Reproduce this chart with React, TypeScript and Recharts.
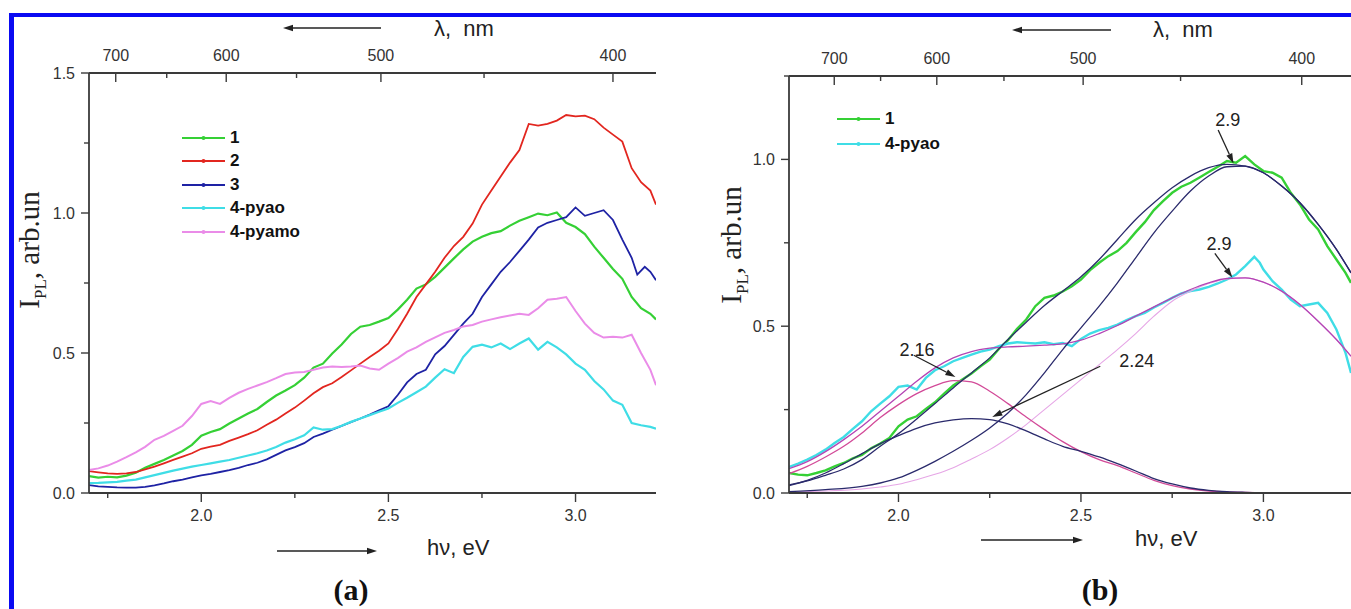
import React from 'react';
import { LineChart, Line, XAxis, YAxis, Legend, ReferenceLine, ReferenceDot } from 'recharts';

type Pt = [number, number];

// ---- panel (a): PL spectra, hv (eV) -> I_PL ----
const spec1A: Pt[] = [
  [1.7, 0.06], [1.725, 0.055], [1.75, 0.058], [1.775, 0.056], [1.8, 0.062], [1.825, 0.072], [1.85, 0.09], [1.875, 0.104],
  [1.9, 0.118], [1.925, 0.134], [1.95, 0.15], [1.975, 0.172], [2.0, 0.205], [2.025, 0.218], [2.05, 0.228], [2.075, 0.248],
  [2.1, 0.266], [2.125, 0.284], [2.15, 0.3], [2.175, 0.325], [2.2, 0.348], [2.225, 0.366], [2.25, 0.385], [2.275, 0.412],
  [2.3, 0.448], [2.325, 0.462], [2.35, 0.498], [2.375, 0.53], [2.4, 0.568], [2.425, 0.594], [2.45, 0.6], [2.475, 0.612],
  [2.5, 0.625], [2.525, 0.655], [2.55, 0.69], [2.575, 0.73], [2.6, 0.745], [2.625, 0.772], [2.65, 0.805], [2.675, 0.838],
  [2.7, 0.87], [2.725, 0.898], [2.75, 0.915], [2.775, 0.928], [2.8, 0.935], [2.825, 0.955], [2.85, 0.972], [2.875, 0.985],
  [2.9, 0.998], [2.925, 0.992], [2.95, 1.002], [2.975, 0.965], [3.0, 0.95], [3.025, 0.925], [3.05, 0.88], [3.075, 0.84],
  [3.1, 0.8], [3.125, 0.765], [3.15, 0.7], [3.175, 0.66], [3.2, 0.64], [3.215, 0.62],
];
const spec2A: Pt[] = [
  [1.7, 0.078], [1.725, 0.074], [1.75, 0.07], [1.775, 0.068], [1.8, 0.07], [1.825, 0.075], [1.85, 0.084], [1.875, 0.094],
  [1.9, 0.106], [1.925, 0.118], [1.95, 0.13], [1.975, 0.142], [2.0, 0.158], [2.025, 0.166], [2.05, 0.172], [2.075, 0.186],
  [2.1, 0.198], [2.125, 0.21], [2.15, 0.224], [2.175, 0.244], [2.2, 0.262], [2.225, 0.284], [2.25, 0.305], [2.275, 0.33],
  [2.3, 0.356], [2.325, 0.378], [2.35, 0.392], [2.375, 0.414], [2.4, 0.438], [2.425, 0.462], [2.45, 0.486], [2.475, 0.508],
  [2.5, 0.534], [2.525, 0.585], [2.55, 0.64], [2.575, 0.7], [2.6, 0.745], [2.625, 0.79], [2.65, 0.84], [2.675, 0.882],
  [2.7, 0.915], [2.725, 0.962], [2.75, 1.03], [2.775, 1.08], [2.8, 1.13], [2.825, 1.18], [2.85, 1.225], [2.875, 1.318],
  [2.9, 1.312], [2.925, 1.318], [2.95, 1.33], [2.975, 1.35], [3.0, 1.345], [3.025, 1.348], [3.05, 1.335], [3.075, 1.305],
  [3.1, 1.28], [3.125, 1.255], [3.15, 1.16], [3.175, 1.11], [3.2, 1.08], [3.215, 1.03],
];
const spec3A: Pt[] = [
  [1.7, 0.028], [1.725, 0.024], [1.75, 0.022], [1.775, 0.02], [1.8, 0.019], [1.825, 0.019], [1.85, 0.022], [1.875, 0.027],
  [1.9, 0.034], [1.925, 0.042], [1.95, 0.048], [1.975, 0.056], [2.0, 0.063], [2.025, 0.068], [2.05, 0.075], [2.075, 0.082],
  [2.1, 0.09], [2.125, 0.1], [2.15, 0.108], [2.175, 0.12], [2.2, 0.136], [2.225, 0.152], [2.25, 0.164], [2.275, 0.178],
  [2.3, 0.2], [2.325, 0.212], [2.35, 0.226], [2.375, 0.24], [2.4, 0.253], [2.425, 0.266], [2.45, 0.28], [2.475, 0.295],
  [2.5, 0.31], [2.525, 0.35], [2.55, 0.395], [2.575, 0.425], [2.6, 0.44], [2.625, 0.495], [2.65, 0.525], [2.675, 0.565],
  [2.7, 0.605], [2.725, 0.64], [2.75, 0.7], [2.775, 0.745], [2.8, 0.79], [2.825, 0.825], [2.85, 0.865], [2.875, 0.905],
  [2.9, 0.948], [2.925, 0.965], [2.95, 0.975], [2.975, 0.985], [3.0, 1.02], [3.025, 0.99], [3.05, 1.0], [3.075, 1.01],
  [3.1, 0.975], [3.125, 0.905], [3.15, 0.84], [3.165, 0.78], [3.185, 0.808], [3.2, 0.79], [3.215, 0.76],
];
const spec4A: Pt[] = [
  [1.7, 0.035], [1.725, 0.036], [1.75, 0.038], [1.775, 0.04], [1.8, 0.044], [1.825, 0.048], [1.85, 0.056], [1.875, 0.064],
  [1.9, 0.072], [1.925, 0.08], [1.95, 0.087], [1.975, 0.094], [2.0, 0.1], [2.025, 0.106], [2.05, 0.112], [2.075, 0.118],
  [2.1, 0.126], [2.125, 0.134], [2.15, 0.142], [2.175, 0.152], [2.2, 0.164], [2.225, 0.18], [2.25, 0.192], [2.275, 0.206],
  [2.3, 0.234], [2.325, 0.226], [2.35, 0.228], [2.375, 0.24], [2.4, 0.254], [2.425, 0.266], [2.45, 0.278], [2.475, 0.29],
  [2.5, 0.302], [2.525, 0.322], [2.55, 0.34], [2.575, 0.36], [2.6, 0.38], [2.625, 0.412], [2.65, 0.442], [2.675, 0.428],
  [2.7, 0.486], [2.725, 0.522], [2.75, 0.53], [2.775, 0.52], [2.8, 0.534], [2.825, 0.514], [2.85, 0.534], [2.875, 0.552],
  [2.9, 0.512], [2.925, 0.54], [2.95, 0.52], [2.975, 0.495], [3.0, 0.462], [3.025, 0.44], [3.05, 0.4], [3.075, 0.37],
  [3.1, 0.33], [3.125, 0.315], [3.15, 0.25], [3.175, 0.242], [3.2, 0.236], [3.215, 0.23],
];
const spec5A: Pt[] = [
  [1.7, 0.082], [1.725, 0.088], [1.75, 0.098], [1.775, 0.112], [1.8, 0.128], [1.825, 0.145], [1.85, 0.165], [1.875, 0.19],
  [1.9, 0.204], [1.925, 0.222], [1.95, 0.24], [1.975, 0.275], [2.0, 0.318], [2.025, 0.328], [2.05, 0.318], [2.075, 0.34],
  [2.1, 0.358], [2.125, 0.372], [2.15, 0.384], [2.175, 0.396], [2.2, 0.41], [2.225, 0.425], [2.25, 0.43], [2.275, 0.432],
  [2.3, 0.44], [2.325, 0.448], [2.35, 0.452], [2.375, 0.45], [2.4, 0.452], [2.425, 0.455], [2.45, 0.445], [2.475, 0.44],
  [2.5, 0.462], [2.525, 0.482], [2.55, 0.505], [2.575, 0.52], [2.6, 0.54], [2.625, 0.556], [2.65, 0.572], [2.675, 0.582],
  [2.7, 0.595], [2.725, 0.6], [2.75, 0.612], [2.775, 0.62], [2.8, 0.628], [2.825, 0.634], [2.85, 0.64], [2.875, 0.636],
  [2.9, 0.66], [2.925, 0.69], [2.95, 0.694], [2.975, 0.7], [3.0, 0.65], [3.025, 0.605], [3.05, 0.572], [3.075, 0.555],
  [3.1, 0.558], [3.125, 0.555], [3.15, 0.565], [3.175, 0.5], [3.2, 0.44], [3.215, 0.385],
];

// ---- panel (b): spectra 1 and 4-pyao with their gaussian fits ----
const spec1B: Pt[] = [
  [1.7, 0.06], [1.725, 0.055], [1.75, 0.053], [1.775, 0.06], [1.8, 0.068], [1.825, 0.08], [1.85, 0.09], [1.875, 0.104],
  [1.9, 0.114], [1.925, 0.134], [1.95, 0.148], [1.975, 0.165], [2.0, 0.2], [2.025, 0.22], [2.05, 0.23], [2.075, 0.252],
  [2.1, 0.272], [2.125, 0.298], [2.15, 0.322], [2.175, 0.34], [2.2, 0.358], [2.225, 0.38], [2.25, 0.4], [2.275, 0.432],
  [2.3, 0.458], [2.325, 0.492], [2.35, 0.52], [2.375, 0.56], [2.4, 0.585], [2.425, 0.592], [2.45, 0.604], [2.475, 0.62],
  [2.5, 0.64], [2.525, 0.668], [2.55, 0.69], [2.575, 0.71], [2.6, 0.725], [2.625, 0.75], [2.65, 0.782], [2.675, 0.812],
  [2.7, 0.848], [2.725, 0.875], [2.75, 0.9], [2.775, 0.918], [2.8, 0.93], [2.825, 0.946], [2.85, 0.962], [2.875, 0.978],
  [2.9, 0.995], [2.925, 0.99], [2.95, 1.01], [2.975, 0.985], [3.0, 0.965], [3.025, 0.96], [3.05, 0.945], [3.075, 0.9],
  [3.1, 0.865], [3.125, 0.82], [3.15, 0.79], [3.175, 0.74], [3.2, 0.7], [3.225, 0.66], [3.24, 0.63],
];
const spec4B: Pt[] = [
  [1.7, 0.078], [1.725, 0.088], [1.75, 0.1], [1.775, 0.114], [1.8, 0.13], [1.825, 0.15], [1.85, 0.168], [1.875, 0.192],
  [1.9, 0.215], [1.925, 0.245], [1.95, 0.268], [1.975, 0.29], [2.0, 0.318], [2.025, 0.322], [2.05, 0.31], [2.075, 0.345],
  [2.1, 0.368], [2.125, 0.38], [2.15, 0.395], [2.175, 0.405], [2.2, 0.415], [2.225, 0.424], [2.25, 0.43], [2.275, 0.44],
  [2.3, 0.448], [2.325, 0.452], [2.35, 0.45], [2.375, 0.448], [2.4, 0.452], [2.425, 0.446], [2.45, 0.45], [2.475, 0.44],
  [2.5, 0.462], [2.525, 0.478], [2.55, 0.488], [2.575, 0.495], [2.6, 0.505], [2.625, 0.518], [2.65, 0.53], [2.675, 0.54],
  [2.7, 0.556], [2.725, 0.57], [2.75, 0.585], [2.775, 0.598], [2.8, 0.605], [2.825, 0.61], [2.85, 0.618], [2.875, 0.628],
  [2.9, 0.64], [2.925, 0.655], [2.95, 0.68], [2.975, 0.708], [2.99, 0.69], [3.0, 0.67], [3.025, 0.635], [3.05, 0.61],
  [3.075, 0.58], [3.1, 0.56], [3.125, 0.565], [3.15, 0.57], [3.175, 0.54], [3.2, 0.49], [3.225, 0.42], [3.24, 0.36],
];
const fit1Sum: Pt[] = [
  [1.7, 0.024], [1.75, 0.036], [1.8, 0.053], [1.85, 0.072], [1.9, 0.1], [1.95, 0.14], [2.0, 0.178], [2.05, 0.222],
  [2.1, 0.268], [2.15, 0.315], [2.2, 0.36], [2.25, 0.405], [2.3, 0.46], [2.35, 0.512], [2.4, 0.562], [2.45, 0.605],
  [2.5, 0.648], [2.55, 0.7], [2.6, 0.76], [2.65, 0.82], [2.7, 0.87], [2.75, 0.915], [2.8, 0.95], [2.85, 0.975],
  [2.9, 0.985], [2.95, 0.98], [3.0, 0.96], [3.05, 0.92], [3.1, 0.87], [3.15, 0.805], [3.2, 0.73], [3.24, 0.66],
];
const fit1Peak224: Pt[] = [
  [1.7, 0.022], [1.75, 0.038], [1.8, 0.06], [1.85, 0.088], [1.9, 0.118], [1.95, 0.148], [2.0, 0.172], [2.05, 0.194],
  [2.1, 0.21], [2.15, 0.219], [2.2, 0.223], [2.25, 0.22], [2.3, 0.207], [2.35, 0.186], [2.4, 0.162], [2.45, 0.14],
  [2.5, 0.125], [2.55, 0.108], [2.6, 0.088], [2.65, 0.066], [2.7, 0.043], [2.75, 0.027], [2.8, 0.015], [2.85, 0.008],
  [2.9, 0.004], [2.95, 0.002], [3.05, 0.0], [3.24, 0.0],
];
const fit1Peak29: Pt[] = [
  [1.7, 0.004], [1.8, 0.01], [1.9, 0.02], [1.95, 0.03], [2.0, 0.045], [2.05, 0.068], [2.1, 0.095], [2.15, 0.125],
  [2.2, 0.158], [2.25, 0.195], [2.3, 0.24], [2.35, 0.295], [2.4, 0.36], [2.45, 0.43], [2.5, 0.495], [2.55, 0.56],
  [2.6, 0.63], [2.65, 0.705], [2.7, 0.78], [2.75, 0.845], [2.8, 0.905], [2.85, 0.95], [2.9, 0.978], [2.95, 0.98],
  [3.0, 0.96], [3.05, 0.92], [3.1, 0.87], [3.15, 0.805], [3.2, 0.73], [3.24, 0.66],
];
const fit4Sum: Pt[] = [
  [1.7, 0.073], [1.75, 0.094], [1.8, 0.124], [1.85, 0.16], [1.9, 0.2], [1.95, 0.245], [2.0, 0.29], [2.05, 0.335],
  [2.1, 0.375], [2.15, 0.405], [2.2, 0.424], [2.25, 0.434], [2.3, 0.438], [2.35, 0.44], [2.4, 0.443], [2.45, 0.447],
  [2.5, 0.458], [2.55, 0.478], [2.6, 0.502], [2.65, 0.53], [2.7, 0.558], [2.75, 0.585], [2.8, 0.61], [2.85, 0.63],
  [2.9, 0.643], [2.95, 0.645], [3.0, 0.632], [3.05, 0.605], [3.1, 0.565], [3.15, 0.515], [3.2, 0.46], [3.24, 0.41],
];
const fit4Peak216: Pt[] = [
  [1.7, 0.058], [1.75, 0.08], [1.8, 0.108], [1.85, 0.14], [1.9, 0.18], [1.95, 0.226], [2.0, 0.265], [2.05, 0.298],
  [2.1, 0.322], [2.15, 0.337], [2.2, 0.333], [2.25, 0.305], [2.3, 0.268], [2.35, 0.228], [2.4, 0.19], [2.45, 0.154],
  [2.5, 0.124], [2.55, 0.1], [2.6, 0.082], [2.65, 0.06], [2.7, 0.038], [2.75, 0.022], [2.8, 0.012], [2.85, 0.006],
  [2.9, 0.003], [3.0, 0.001], [3.1, 0.0], [3.24, 0.0],
];
const fit4Peak29: Pt[] = [
  [1.7, 0.003], [1.8, 0.006], [1.9, 0.012], [1.95, 0.018], [2.0, 0.026], [2.05, 0.04], [2.1, 0.056], [2.15, 0.076],
  [2.2, 0.102], [2.25, 0.13], [2.3, 0.165], [2.35, 0.205], [2.4, 0.25], [2.45, 0.295], [2.5, 0.34], [2.55, 0.385],
  [2.6, 0.43], [2.65, 0.478], [2.7, 0.53], [2.75, 0.575], [2.8, 0.605], [2.85, 0.628], [2.9, 0.642], [2.95, 0.645],
  [3.0, 0.632], [3.05, 0.605], [3.1, 0.565], [3.15, 0.515], [3.2, 0.46], [3.24, 0.41],
];

// ---- axes ----
const evTicks = [1.75, 2.0, 2.25, 2.5, 2.75, 3.0];
const yTicksA = [0, 0.25, 0.5, 0.75, 1.0, 1.25, 1.5];
const yTicksB = [0, 0.25, 0.5, 0.75, 1.0, 1.25];
const lambdaTicksA = [700, 650, 600, 550, 500, 450, 400];
const lambdaTickEvB = [1.824, 1.951, 2.105, 2.289, 2.506, 2.773, 3.105];
const lambdaLabelsB = ['700', '', '600', '', '500', '', '400'];

const legendOrderA = ['1', '2', '3', '4-pyao', '4-pyamo'];
const legendOrderB = ['1', '4-pyao'];

// ---- peak annotations in (b) ----
const peakNotes = [
  { text: '2.9', at: { x: 2.902, y: 1.118 }, from: { x: 2.876, y: 1.088 }, to: { x: 2.918, y: 0.988 } },
  { text: '2.9', at: { x: 2.878, y: 0.748 }, from: { x: 2.867, y: 0.718 }, to: { x: 2.915, y: 0.646 } },
  { text: '2.16', at: { x: 2.051, y: 0.431 }, from: { x: 2.042, y: 0.413 }, to: { x: 2.156, y: 0.348 } },
  { text: '2.24', at: { x: 2.653, y: 0.398 }, from: { x: 2.553, y: 0.38 }, to: { x: 2.257, y: 0.228 } },
];

const C = {
  green: '#35d035',
  red: '#e2261f',
  blue: '#1e22a4',
  cyan: '#3fdde6',
  pink: '#ea8ce8',
  navy: '#2a2a6c',
  magenta: '#b444b4',
  rose: '#d24a98',
  lilac: '#e6a6e6',
};

const AXIS = '#3a3a3a';
const SANS = 'Arial, "Liberation Sans", sans-serif';
const SERIF = '"Times New Roman", "Liberation Serif", serif';

const pts = (arr: Pt[]) => arr.map(([e, v]) => ({ e, v }));
const isHalf = (v: number) => Math.abs(v * 2 - Math.round(v * 2)) < 1e-6;

const EvTick = (props: any) => {
  const { x, y, payload } = props;
  const major = isHalf(payload.value);
  return (
    <g>
      <line x1={x} y1={y} x2={x} y2={y + (major ? 9 : 5)} stroke={AXIS} strokeWidth={1.4} />
      {major && (
        <text x={x} y={y + 28} textAnchor="middle" fontFamily={SANS} fontSize={16} fill="#333">
          {payload.value.toFixed(1)}
        </text>
      )}
    </g>
  );
};

const makeLambdaTick = (ticks: number[], labels: string[]) => (props: any) => {
  const { x, y, payload } = props;
  const i = ticks.indexOf(payload.value);
  const label = i >= 0 ? labels[i] : '';
  return (
    <g>
      <line x1={x} y1={y} x2={x} y2={y + (label ? 9 : 5)} stroke={AXIS} strokeWidth={1.4} />
      {label && (
        <text x={x} y={y - 12} textAnchor="middle" fontFamily={SANS} fontSize={16} fill="#333">
          {label}
        </text>
      )}
    </g>
  );
};

const IntensityTick = (props: any) => {
  const { x, y, payload } = props;
  const major = isHalf(payload.value);
  return (
    <g>
      <line x1={x} y1={y} x2={x - (major ? 8 : 5)} y2={y} stroke={AXIS} strokeWidth={1.4} />
      {major && (
        <text x={x - 14} y={y + 5.5} textAnchor="end" fontFamily={SANS} fontSize={16} fill="#333">
          {payload.value.toFixed(1)}
        </text>
      )}
    </g>
  );
};

// only the measured spectra get a legend row, in the order of the original
const renderLegend = (rowH: number, order: string[]) => (props: any) => {
  const items = (props.payload || [])
    .filter((it: any) => order.includes(it.value))
    .sort((a: any, b: any) => order.indexOf(a.value) - order.indexOf(b.value));
  return (
    <div>
      {items.map((item: any) => (
        <div key={item.value} style={{ display: 'flex', alignItems: 'center', height: rowH }}>
          <svg width={43} height={10}>
            <line x1={0} y1={5} x2={43} y2={5} stroke={item.color} strokeWidth={2} />
            <circle cx={21.5} cy={5} r={2} fill={item.color} />
          </svg>
          <span style={{ marginLeft: 5, fontFamily: SANS, fontWeight: 'bold', fontSize: 17, color: '#111' }}>
            {item.value}
          </span>
        </div>
      ))}
    </div>
  );
};

const PeakArrow = (p: any) => {
  const { x1, y1, x2, y2 } = p;
  const ang = Math.atan2(y2 - y1, x2 - x1);
  const len = 10;
  const half = 3.2;
  const bx = x2 - len * Math.cos(ang);
  const by = y2 - len * Math.sin(ang);
  const nx = -Math.sin(ang) * half;
  const ny = Math.cos(ang) * half;
  return (
    <g>
      <line x1={x1} y1={y1} x2={bx} y2={by} stroke="#222" strokeWidth={1.3} />
      <polygon points={`${x2},${y2} ${bx + nx},${by + ny} ${bx - nx},${by - ny}`} fill="#222" />
    </g>
  );
};

const commonAxis = {
  type: 'number' as const,
  dataKey: 'e',
  allowDataOverflow: true,
  interval: 0 as const,
  tickSize: 0,
  tickMargin: 0,
  tickLine: false,
  height: 30,
  axisLine: { stroke: AXIS, strokeWidth: 1.8 },
};

function PanelA() {
  const domain: [number, number] = [1.7, 3.215];
  const lamEv = lambdaTicksA.map((l) => 1240 / l);
  const lamLabels = lambdaTicksA.map((l) => (l % 100 === 0 ? String(l) : ''));
  const LamTick = makeLambdaTick(lamEv, lamLabels);
  const series = [
    { name: '1', data: spec1A, color: C.green, w: 2.2 },
    { name: '2', data: spec2A, color: C.red, w: 1.8 },
    { name: '3', data: spec3A, color: C.blue, w: 1.8 },
    { name: '4-pyao', data: spec4A, color: C.cyan, w: 2.2 },
    { name: '4-pyamo', data: spec5A, color: C.pink, w: 2 },
  ];
  return (
    <LineChart width={700} height={609} margin={{ top: 43, right: 44, bottom: 86, left: 39 }}>
      <XAxis xAxisId="ev" {...commonAxis} domain={domain} ticks={evTicks} tick={EvTick} />
      <XAxis xAxisId="lam" orientation="top" {...commonAxis} domain={domain} ticks={lamEv} tick={LamTick} />
      <YAxis
        yAxisId="i"
        type="number"
        domain={[0, 1.5]}
        allowDataOverflow
        ticks={yTicksA}
        interval={0}
        width={50}
        tickSize={0}
        tickMargin={0}
        tickLine={false}
        axisLine={{ stroke: AXIS, strokeWidth: 1.8 }}
        tick={IntensityTick}
      />
      <Legend
        layout="vertical"
        align="center"
        verticalAlign="middle"
        wrapperStyle={{ left: 182, top: 126, width: 160 }}
        content={renderLegend(23.5, legendOrderA)}
      />
      {series.map((s) => (
        <Line
          key={s.name}
          name={s.name}
          xAxisId="ev"
          yAxisId="i"
          data={pts(s.data)}
          dataKey="v"
          type="linear"
          stroke={s.color}
          strokeWidth={s.w}
          dot={false}
          isAnimationActive={false}
        />
      ))}
    </LineChart>
  );
}

function PanelB() {
  const domain: [number, number] = [1.7, 3.24];
  const LamTick = makeLambdaTick(lambdaTickEvB, lambdaLabelsB);
  const fits = [
    { key: 'f4b', data: fit4Peak29, color: C.lilac, w: 1.1 },
    { key: 'f4a', data: fit4Peak216, color: C.rose, w: 1.3 },
    { key: 'f4s', data: fit4Sum, color: C.magenta, w: 1.3 },
    { key: 'f1a', data: fit1Peak224, color: C.navy, w: 1.3 },
    { key: 'f1b', data: fit1Peak29, color: C.navy, w: 1.3 },
    { key: 'f1s', data: fit1Sum, color: C.navy, w: 1.3 },
  ];
  return (
    <LineChart width={671} height={609} margin={{ top: 46, right: 0, bottom: 86, left: 59 }}>
      <XAxis xAxisId="ev" {...commonAxis} domain={domain} ticks={evTicks} tick={EvTick} />
      <XAxis xAxisId="lam" orientation="top" {...commonAxis} domain={domain} ticks={lambdaTickEvB} tick={LamTick} />
      <YAxis
        yAxisId="i"
        type="number"
        domain={[0, 1.25]}
        allowDataOverflow
        ticks={yTicksB}
        interval={0}
        width={50}
        tickSize={0}
        tickMargin={0}
        tickLine={false}
        axisLine={{ stroke: AXIS, strokeWidth: 1.8 }}
        tick={IntensityTick}
      />
      <Legend
        layout="vertical"
        align="center"
        verticalAlign="middle"
        wrapperStyle={{ left: 157, top: 106, width: 160 }}
        content={renderLegend(25, legendOrderB)}
      />
      <Line name="1" xAxisId="ev" yAxisId="i" data={pts(spec1B)} dataKey="v" type="linear"
        stroke={C.green} strokeWidth={2.4} dot={false} isAnimationActive={false} />
      <Line name="4-pyao" xAxisId="ev" yAxisId="i" data={pts(spec4B)} dataKey="v" type="linear"
        stroke={C.cyan} strokeWidth={2.4} dot={false} isAnimationActive={false} />
      {fits.map((f) => (
        <Line
          key={f.key}
          name={f.key}
          xAxisId="ev"
          yAxisId="i"
          data={pts(f.data)}
          dataKey="v"
          type="monotone"
          stroke={f.color}
          strokeWidth={f.w}
          dot={false}
          legendType="none"
          isAnimationActive={false}
        />
      ))}
      {peakNotes.map((n, i) => (
        <ReferenceLine key={`a${i}`} xAxisId="ev" yAxisId="i" segment={[n.from, n.to]} shape={PeakArrow} />
      ))}
      {peakNotes.map((n, i) => (
        <ReferenceDot
          key={`t${i}`}
          xAxisId="ev"
          yAxisId="i"
          x={n.at.x}
          y={n.at.y}
          r={0}
          fill="none"
          stroke="none"
          label={{ value: n.text, position: 'center', fontFamily: SANS, fontSize: 18, fill: '#222' }}
        />
      ))}
    </LineChart>
  );
}

// axis titles and the direction arrows around both panels
function Decorations() {
  const arrow = (x1: number, x2: number, y: number) => {
    const dir = x2 > x1 ? 1 : -1;
    return (
      <g>
        <line x1={x1} y1={y} x2={x2 - dir * 9} y2={y} stroke="#222" strokeWidth={1.4} />
        <polygon points={`${x2},${y} ${x2 - dir * 10},${y - 3.2} ${x2 - dir * 10},${y + 3.2}`} fill="#222" />
      </g>
    );
  };
  const yTitle = (x: number, y: number) => (
    <text transform={`translate(${x},${y}) rotate(-90)`} textAnchor="middle" fontFamily={SERIF} fontSize={29} fill="#222">
      I<tspan dy={7} fontSize={17}>PL</tspan>
      <tspan dy={-7}>, arb.un</tspan>
    </text>
  );
  return (
    <svg width={1351} height={609} style={{ position: 'absolute', left: 0, top: 0, pointerEvents: 'none' }}>
      {arrow(381, 283, 28)}
      <text x={434} y={36} fontFamily={SANS} fontSize={22} fill="#222">λ,{'\u00a0 '}nm</text>
      {arrow(277, 377, 551)}
      <text x={427} y={555} fontFamily={SANS} fontSize={22} fill="#222">hν, eV</text>
      <text x={351} y={600} textAnchor="middle" fontFamily={SERIF} fontWeight="bold" fontSize={30} fill="#111">(a)</text>
      {yTitle(39, 250)}

      {arrow(1111, 1012, 30)}
      <text x={1153} y={37} fontFamily={SANS} fontSize={22} fill="#222">λ,{'\u00a0 '}nm</text>
      {arrow(981, 1083, 540)}
      <text x={1135} y={546} fontFamily={SANS} fontSize={22} fill="#222">hν, eV</text>
      <text x={1100} y={600} textAnchor="middle" fontFamily={SERIF} fontWeight="bold" fontSize={30} fill="#111">(b)</text>
      {yTitle(741, 245)}
    </svg>
  );
}

export default function App() {
  return (
    <div style={{ position: 'absolute', left: 0, top: 0, width: 1351, height: 609, overflow: 'hidden', background: '#fff' }}>
      <div
        style={{
          position: 'absolute',
          left: 9,
          top: 13,
          width: 1342,
          height: 596,
          borderTop: '4px solid #0a0af2',
          borderLeft: '5px solid #0a0af2',
          boxSizing: 'border-box',
        }}
      />
      <div style={{ position: 'absolute', left: 0, top: 0 }}>
        <PanelA />
      </div>
      <div style={{ position: 'absolute', left: 680, top: 0 }}>
        <PanelB />
      </div>
      <Decorations />
    </div>
  );
}
